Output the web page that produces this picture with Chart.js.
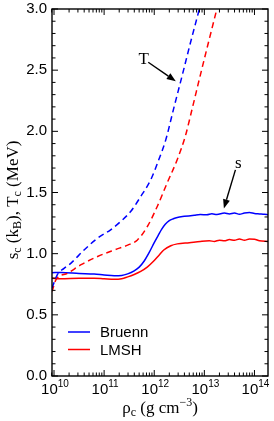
<!DOCTYPE html>
<html><head><meta charset="utf-8">
<script src="https://cdn.jsdelivr.net/npm/chart.js@4/dist/chart.umd.min.js"></script>
<style>html,body{margin:0;padding:0;background:#fff;}canvas{display:block;}</style>
</head><body>
<canvas id="c" width="274" height="421"></canvas>
<script>
// ---- data (x given as log10 of central density, g cm^-3) ----
const bruennS_logRho = [9.96,10.14,10.5,10.8,11.0,11.2,11.35,11.47,11.6,11.7,11.8,11.9,12.0,12.08,12.15,12.22,12.3,12.38,12.46,12.6,12.8,12.92,13.05,13.15,13.25,13.4,13.5,13.6,13.7,13.8,13.9,14.0,14.1,14.2,14.27];
const bruennS        = [0.845,0.846,0.838,0.833,0.826,0.82,0.822,0.835,0.86,0.89,0.94,1.01,1.09,1.15,1.20,1.24,1.27,1.285,1.296,1.305,1.315,1.32,1.318,1.326,1.32,1.332,1.325,1.332,1.322,1.332,1.336,1.328,1.325,1.322,1.318];

const lmshS_logRho = [9.96,10.14,10.5,10.8,11.0,11.2,11.35,11.47,11.6,11.73,11.86,11.99,12.1,12.19,12.33,12.46,12.7,12.92,13.1,13.2,13.3,13.4,13.5,13.6,13.7,13.8,13.9,14.0,14.1,14.27];
const lmshS        = [0.80,0.795,0.80,0.80,0.795,0.79,0.795,0.81,0.83,0.855,0.89,0.94,0.99,1.03,1.065,1.08,1.09,1.10,1.105,1.10,1.11,1.105,1.115,1.11,1.12,1.11,1.12,1.118,1.105,1.10];

const bruennT_logRho = [9.96,10.07,10.2,10.34,10.6,10.87,11.13,11.33,11.53,11.73,11.93,12.09,12.23,12.39,12.56,12.72,12.9,13.0];
const bruennT        = [0.72,0.83,0.88,0.923,1.03,1.127,1.195,1.263,1.345,1.467,1.604,1.767,1.93,2.19,2.46,2.72,3.0,3.16];

const lmshT_logRho = [9.96,10.04,10.27,10.54,10.87,11.2,11.47,11.66,11.86,12.06,12.26,12.46,12.62,12.76,12.92,13.09,13.25,13.35];
const lmshT        = [0.69,0.787,0.84,0.91,0.977,1.03,1.07,1.11,1.22,1.386,1.58,1.77,1.96,2.19,2.46,2.74,3.0,3.16];

const xMajorExp = [10,11,12,13,14];
const yMajor = ['0.0','0.5','1.0','1.5','2.0','2.5','3.0'];
const seriesNames = ['Bruenn','LMSH'];

const BLUE = '#0000ff', RED = '#ff0000';
const pts = (lx, v) => v.map((y, i) => ({x: Math.pow(10, lx[i]), y}));

const SANS = '"Liberation Sans", Arial, Helvetica, sans-serif';
const SERIF = '"Liberation Serif", "Times New Roman", serif';

function arrow(ctx, x1, y1, x2, y2) {
  const ang = Math.atan2(y2 - y1, x2 - x1), L = 9, W = 3.5;
  const bx = x2 - L * Math.cos(ang), by = y2 - L * Math.sin(ang);
  ctx.save();
  ctx.strokeStyle = '#000'; ctx.fillStyle = '#000'; ctx.lineWidth = 1.4;
  ctx.beginPath(); ctx.moveTo(x1, y1); ctx.lineTo(bx, by); ctx.stroke();
  ctx.beginPath();
  ctx.moveTo(x2, y2);
  ctx.lineTo(bx + W * Math.sin(ang), by - W * Math.cos(ang));
  ctx.lineTo(bx - W * Math.sin(ang), by + W * Math.cos(ang));
  ctx.closePath(); ctx.fill();
  ctx.restore();
}

const decor = {
  id: 'decor',
  afterDraw(chart) {
    const {ctx, chartArea: a, scales: {x, y}} = chart;
    ctx.save();
    // frame
    ctx.strokeStyle = '#000'; ctx.lineWidth = 1.4;
    ctx.strokeRect(a.left, a.top, a.right - a.left, a.bottom - a.top);
    ctx.lineWidth = 1;
    // x ticks (inward, bottom and top)
    for (const e of xMajorExp.concat([9])) {
      for (let m = 1; m <= 9; m++) {
        const v = m * Math.pow(10, e);
        const px = x.getPixelForValue(v);
        if (px < a.left - 0.5 || px > a.right + 0.5) continue;
        const len = m === 1 ? 6 : 3.5;
        ctx.beginPath();
        ctx.moveTo(px, a.bottom); ctx.lineTo(px, a.bottom - len);
        ctx.moveTo(px, a.top); ctx.lineTo(px, a.top + len);
        ctx.stroke();
      }
    }
    // y ticks
    for (let k = 0; k <= 30; k++) {
      const py = y.getPixelForValue(k / 10);
      const len = k % 5 === 0 ? 6 : 3.5;
      ctx.beginPath();
      ctx.moveTo(a.left, py); ctx.lineTo(a.left + len, py);
      ctx.moveTo(a.right, py); ctx.lineTo(a.right - len, py);
      ctx.stroke();
    }
    // y tick labels
    ctx.fillStyle = '#000';
    ctx.font = '15px ' + SANS;
    ctx.textAlign = 'right'; ctx.textBaseline = 'middle';
    for (const t of yMajor) ctx.fillText(t, a.left - 5, y.getPixelForValue(parseFloat(t)));
    // x tick labels 10^n
    ctx.textBaseline = 'alphabetic'; ctx.textAlign = 'left';
    for (const e of xMajorExp) {
      const px = x.getPixelForValue(Math.pow(10, e));
      ctx.font = '15px ' + SANS; const wb = ctx.measureText('10').width;
      ctx.font = '10px ' + SANS; const ws = ctx.measureText(String(e)).width;
      const x0 = px - (wb + ws) / 2 + 1;
      ctx.font = '15px ' + SANS; ctx.fillText('10', x0, 394);
      ctx.font = '10px ' + SANS; ctx.fillText(String(e), x0 + wb, 387);
    }
    // x title: ρc (g cm−3)
    {
      const parts = [['ρ', 17, 0], ['c', 12, 3], [' (g cm', 17, 0], ['−3', 12, -7], [')', 17, 0]];
      let w = 0;
      for (const [s, f] of parts) { ctx.font = f + 'px ' + SERIF; w += ctx.measureText(s).width; }
      let cx = (a.left + a.right) / 2 - w / 2;
      for (const [s, f, dy] of parts) { ctx.font = f + 'px ' + SERIF; ctx.fillText(s, cx, 413 + dy); cx += ctx.measureText(s).width; }
    }
    // y title: sc (kB), Tc (MeV)
    {
      const parts = [['s', 17, 0], ['c', 12, 3], [' (k', 17, 0], ['B', 12, 3], ['), T', 17, 0], ['c', 12, 3], [' (MeV)', 17, 0]];
      let w = 0;
      for (const [s, f] of parts) { ctx.font = f + 'px ' + SERIF; w += ctx.measureText(s).width; }
      ctx.save();
      ctx.translate(18, 200);
      ctx.rotate(-Math.PI / 2);
      let cx = -w / 2;
      for (const [s, f, dy] of parts) { ctx.font = f + 'px ' + SERIF; ctx.fillText(s, cx, dy); cx += ctx.measureText(s).width; }
      ctx.restore();
    }
    // legend
    const ds = chart.data.datasets;
    seriesNames.forEach((name, i) => {
      const d = ds.find(q => q.label === name);
      const ly = 332 + i * 17.5;
      ctx.strokeStyle = d.borderColor; ctx.lineWidth = 1.5;
      ctx.beginPath(); ctx.moveTo(68, ly); ctx.lineTo(90, ly); ctx.stroke();
      ctx.fillStyle = '#000'; ctx.font = '15px ' + SANS; ctx.textBaseline = 'middle'; ctx.textAlign = 'left';
      ctx.fillText(name, 100, ly + 1);
    });
    // annotations (placed in data coordinates)
    ctx.font = '17px ' + SERIF; ctx.textAlign = 'center'; ctx.textBaseline = 'middle';
    ctx.fillText('T', x.getPixelForValue(Math.pow(10, 11.79)), y.getPixelForValue(2.59));
    arrow(ctx, x.getPixelForValue(Math.pow(10, 11.88)), y.getPixelForValue(2.565),
               x.getPixelForValue(Math.pow(10, 12.43)), y.getPixelForValue(2.41));
    ctx.fillText('s', x.getPixelForValue(Math.pow(10, 13.68)), y.getPixelForValue(1.74));
    arrow(ctx, x.getPixelForValue(Math.pow(10, 13.62)), y.getPixelForValue(1.685),
               x.getPixelForValue(Math.pow(10, 13.39)), y.getPixelForValue(1.37));
    ctx.restore();
  }
};

const lineDs = (label, data, color, dashed) => ({
  label, data, borderColor: color, backgroundColor: color, borderWidth: 1.5,
  borderDash: dashed ? [6, 4] : [], pointRadius: 0, fill: false,
  cubicInterpolationMode: 'monotone'
});

new Chart(document.getElementById('c'), {
  type: 'line',
  data: {
    datasets: [
      lineDs('Bruenn T', pts(bruennT_logRho, bruennT), BLUE, true),
      lineDs('LMSH T', pts(lmshT_logRho, lmshT), RED, true),
      lineDs('LMSH', pts(lmshS_logRho, lmshS), RED, false),
      lineDs('Bruenn', pts(bruennS_logRho, bruennS), BLUE, false)
    ]
  },
  options: {
    responsive: false, animation: false, parsing: true,
    layout: {padding: {left: 0, right: 6, top: 9, bottom: 0}},
    plugins: {legend: {display: false}, tooltip: {enabled: false}},
    scales: {
      x: {type: 'logarithmic', min: Math.pow(10, 9.96), max: Math.pow(10, 14.27),
          ticks: {display: false}, grid: {display: false, drawTicks: false}, border: {display: false},
          afterFit(s) { s.height = 45; }},
      y: {type: 'linear', min: 0, max: 3,
          ticks: {display: false}, grid: {display: false, drawTicks: false}, border: {display: false},
          afterFit(s) { s.width = 52; }}
    }
  },
  plugins: [decor]
});
</script>
</body></html>
